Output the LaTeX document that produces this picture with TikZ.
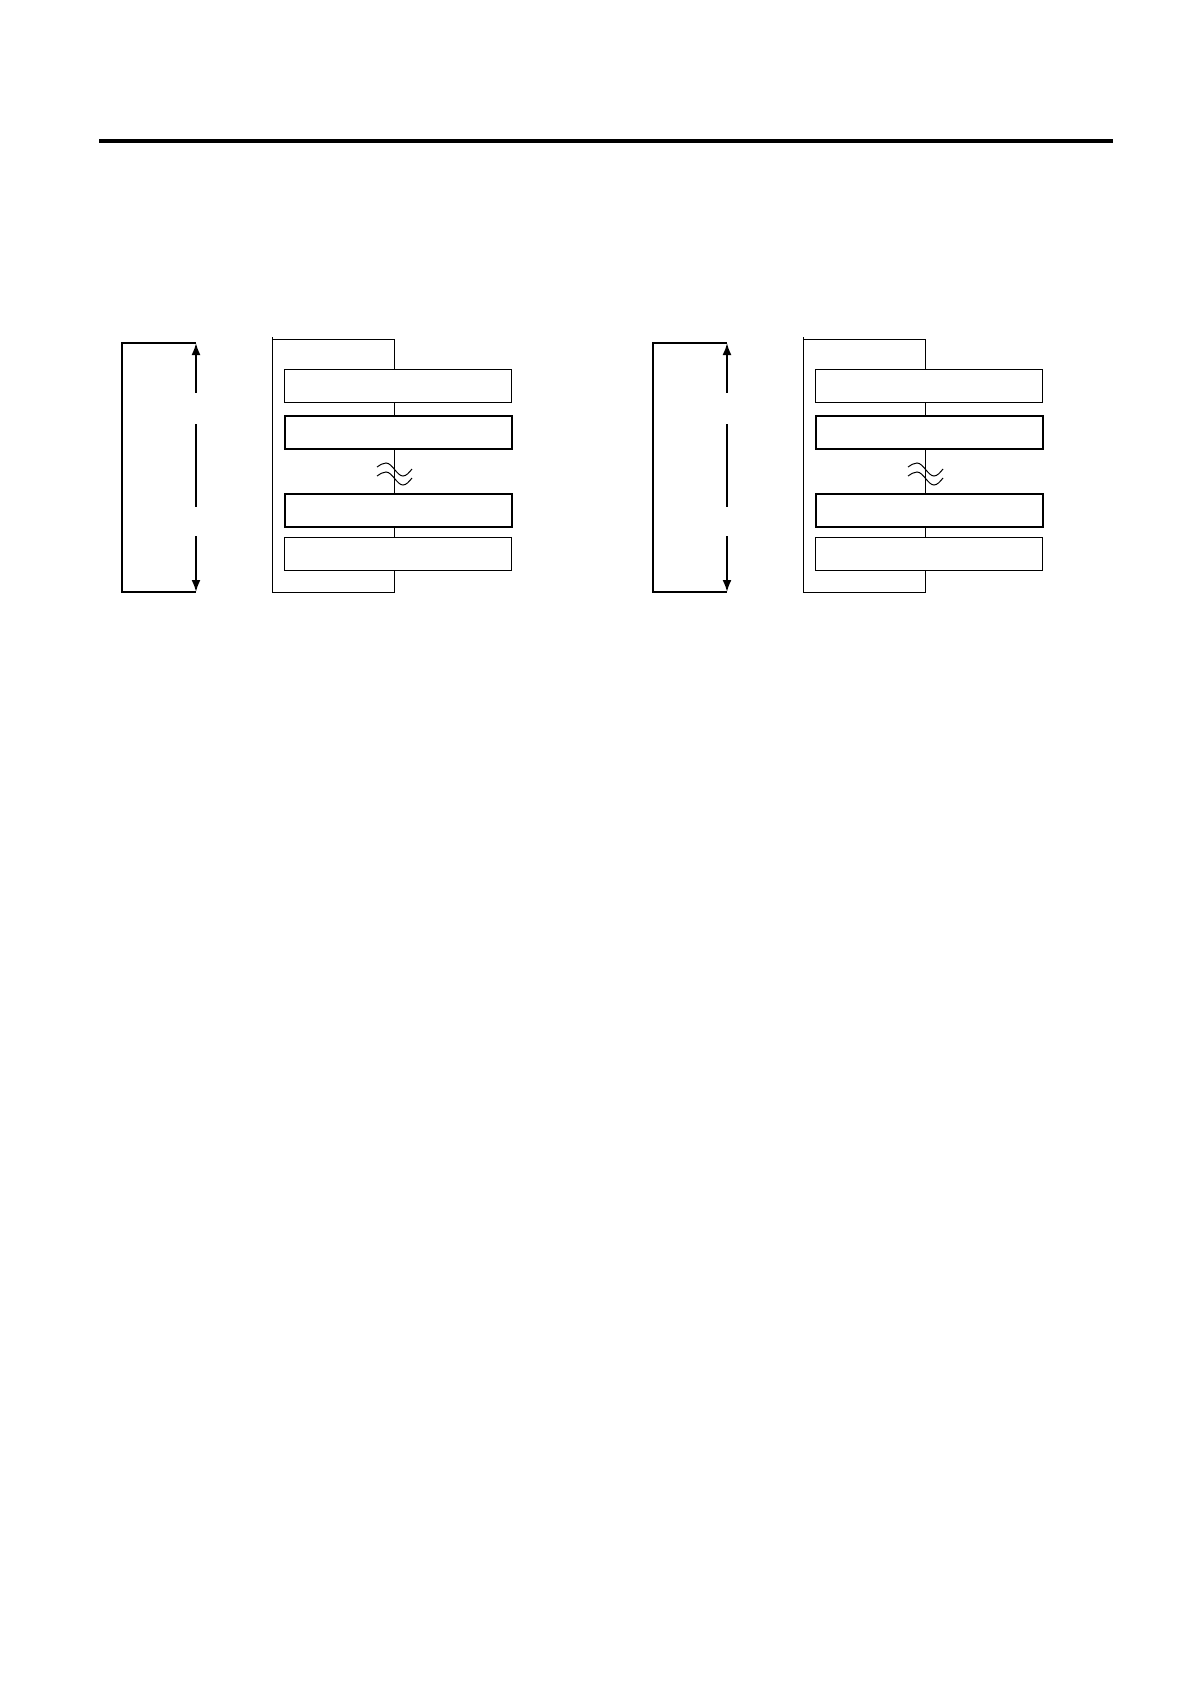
\documentclass[tikz,border=0pt]{standalone}
\usetikzlibrary{arrows.meta,positioning}

\begin{document}
\begin{tikzpicture}[x=1pt,y=-1pt,
		>={Latex[length=12pt,width=9pt]},
		layer/.style={
			rectangle,
			draw=black, fill=white,
			line width=1pt,
			minimum width=227pt,
			minimum height=33pt,
			inner sep=0pt
		},
		thicklayer/.style={layer, line width=2pt},
		bracket/.style={line width=2pt},
		frame/.style={line width=1pt}]

	\useasboundingbox (0,0) rectangle (1190,1684);

	%% Header rule
	\coordinate (ruleA) at (99,141);
	\coordinate (ruleB) at (1113,141);
	\draw [line width=4pt] (ruleA) -- (ruleB);

	%% The two stacks, left and right
	\foreach \name/\dx in {l/0, r/531} {
		\begin{scope}[xshift=\dx pt]

			% Outer frame behind the layers
			\draw [frame] (394,339) -- (272,339) -- (272,337);
			\draw [frame] (272,339) rectangle (394,592);

			% Layers
			\node [layer] (\name a) at (398,386) {};
			\node [thicklayer] (\name b) at (398,432) {};
			\node [thicklayer] (\name c) at (398,510) {};
			\node [layer] (\name d) at (398,553.5) {};

			% Break mark
			\draw [frame] (377,467) sin (386,463) cos (395,470) sin (403,476) cos (412,469);
			\draw [frame] (377,476) sin (386,472) cos (395,479) sin (403,485) cos (412,478);

			% Bracket and height arrow
			\coordinate (\name top) at (196,343);
			\coordinate (\name bot) at (196,592);
			\draw [bracket] (\name top) -- (122,343) -- (122,592) -- (\name bot);
			\draw [bracket,<-] (\name top) -- (196,393);
			\draw [bracket] (196,424) -- (196,507);
			\draw [bracket,->] (196,536) -- (\name bot);

		\end{scope}
	}
\end{tikzpicture}
\end{document}
